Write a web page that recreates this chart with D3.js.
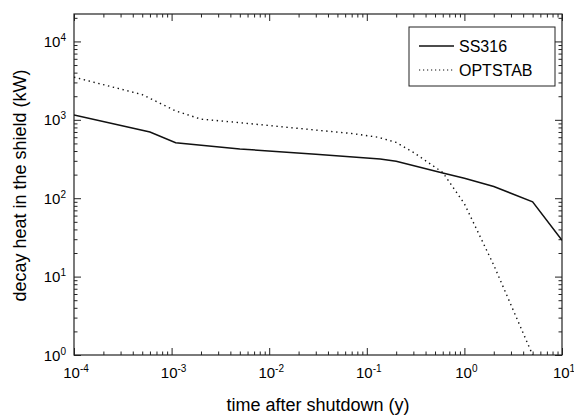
<!DOCTYPE html>
<html>
<head>
<meta charset="utf-8">
<script src="https://cdn.jsdelivr.net/npm/d3@7"></script>
<style>
  body { margin: 0; background: #fff; }
  svg { font-family: "Liberation Sans", Arial, Helvetica, sans-serif; }
</style>
</head>
<body>
<div id="chart"></div>
<script>
// values (time in years, decay heat in kW)
const ss316Time = [1e-4, 6e-4, 1.1e-3, 5e-3, 3e-2, 0.137, 0.2, 0.6, 1, 2, 5, 10];
const ss316Heat = [1150, 700, 510, 425, 365, 316, 296, 210, 180, 141, 90, 29];
const optTime = [1e-4, 5e-4, 1.1e-3, 2e-3, 5e-3, 3e-2, 7e-2, 0.13, 0.2, 0.3, 0.6, 1, 2, 5];
const optHeat = [3500, 2100, 1300, 1020, 920, 740, 670, 600, 515, 385, 213, 85, 14, 1.0];
const xMajor = [1e-4, 1e-3, 1e-2, 1e-1, 1e0, 1e1];
const yMajor = [1e0, 1e1, 1e2, 1e3, 1e4];
const seriesNames = ["SS316", "OPTSTAB"];

const width = 574,
    height = 416,
    margin = { top: 14, right: 12, bottom: 61, left: 74 };

const svg = d3
    .select("#chart")
    .append("svg")
    .attr("width", width)
    .attr("height", height)
    .attr("viewBox", [0, 0, width, height]);

const x = d3
    .scaleLog()
    .domain([1e-4, 10])
    .range([margin.left, width - margin.right]);
const y = d3
    .scaleLog()
    .domain([1, Math.pow(10, 4.35)])
    .range([height - margin.bottom, margin.top]);

// minor ticks 2..9 in each decade
function minors(scale) {
    const [a, b] = scale.domain();
    const out = [];
    for (let e = Math.floor(Math.log10(a)); e <= Math.ceil(Math.log10(b)); e++) {
        for (let k = 2; k <= 9; k++) {
            const v = k * Math.pow(10, e);
            if (v > a && v < b) out.push(v);
        }
    }
    return out;
}

const innerW = width - margin.left - margin.right,
    innerH = height - margin.top - margin.bottom;

function styleAxis(g) {
    g.select(".domain").remove();
    g.selectAll("line").attr("stroke", "#222").attr("stroke-width", 1);
}

// ticks on all four sides, pointing inward
const sides = [
    { ax: d3.axisBottom(x), tr: `translate(0,${height - margin.bottom})`, major: xMajor, minor: minors(x) },
    { ax: d3.axisTop(x), tr: `translate(0,${margin.top})`, major: xMajor, minor: minors(x) },
    { ax: d3.axisLeft(y), tr: `translate(${margin.left},0)`, major: yMajor, minor: minors(y) },
    { ax: d3.axisRight(y), tr: `translate(${width - margin.right},0)`, major: yMajor, minor: minors(y) },
];
sides.forEach((s) => {
    svg.append("g")
        .attr("transform", s.tr)
        .call(s.ax.tickValues(s.minor).tickSize(-3.5).tickFormat(""))
        .call(styleAxis);
    svg.append("g")
        .attr("transform", s.tr)
        .call(s.ax.tickValues(s.major).tickSize(-7).tickFormat(""))
        .call(styleAxis);
});

// tick labels 10^n
function powLabel(sel, d) {
    const e = Math.round(Math.log10(d));
    sel.append("tspan").text("10");
    sel.append("tspan")
        .attr("dy", -6)
        .attr("font-size", 10)
        .text(e < 0 ? "-" + -e : e);
}
svg.append("g")
    .selectAll("text")
    .data(xMajor)
    .join("text")
    .attr("x", (d) => x(d) + 2)
    .attr("y", height - margin.bottom + 23)
    .attr("text-anchor", "middle")
    .attr("font-size", 15)
    .each(function (d) { powLabel(d3.select(this), d); });
svg.append("g")
    .selectAll("text")
    .data(yMajor)
    .join("text")
    .attr("x", margin.left - 8)
    .attr("y", (d) => y(d) + 5.5)
    .attr("text-anchor", "end")
    .attr("font-size", 15)
    .each(function (d) { powLabel(d3.select(this), d); });

// axis titles
svg.append("text")
    .attr("x", margin.left + innerW / 2)
    .attr("y", 411)
    .attr("text-anchor", "middle")
    .attr("font-size", 18)
    .text("time after shutdown (y)");
svg.append("text")
    .attr("transform", `translate(26,${margin.top + innerH / 2 + 1}) rotate(-90)`)
    .attr("text-anchor", "middle")
    .attr("font-size", 18)
    .text("decay heat in the shield (kW)");

// frame
svg.append("rect")
    .attr("x", margin.left)
    .attr("y", margin.top)
    .attr("width", innerW)
    .attr("height", innerH)
    .attr("fill", "none")
    .attr("stroke", "#222")
    .attr("stroke-width", 1.2);

// curves
const line = d3
    .line()
    .x((d) => x(d[0]))
    .y((d) => y(d[1]));
svg.append("clipPath")
    .attr("id", "clip")
    .append("rect")
    .attr("x", margin.left)
    .attr("y", margin.top)
    .attr("width", innerW)
    .attr("height", innerH);
const plot = svg.append("g").attr("clip-path", "url(#clip)");
plot.append("path")
    .datum(d3.zip(ss316Time, ss316Heat))
    .attr("d", line)
    .attr("fill", "none")
    .attr("stroke", "#111")
    .attr("stroke-width", 1.5);
plot.append("path")
    .datum(d3.zip(optTime, optHeat))
    .attr("d", line)
    .attr("fill", "none")
    .attr("stroke", "#111")
    .attr("stroke-width", 1.4)
    .attr("stroke-dasharray", "1.4,3.6");

// legend
const lg = svg.append("g").attr("transform", "translate(409,27)");
lg.append("rect")
    .attr("width", 146)
    .attr("height", 59)
    .attr("fill", "#fff")
    .attr("stroke", "#222")
    .attr("stroke-width", 1);
seriesNames.forEach((name, i) => {
    const yy = 19 + i * 24;
    lg.append("line")
        .attr("x1", 10)
        .attr("x2", 45)
        .attr("y1", yy)
        .attr("y2", yy)
        .attr("stroke", "#111")
        .attr("stroke-width", i ? 1.2 : 1.5)
        .attr("stroke-dasharray", i ? "1.2,2.8" : null);
    lg.append("text")
        .attr("x", 50)
        .attr("y", yy + 6)
        .attr("font-size", 16)
        .text(name);
});
</script>
</body>
</html>
